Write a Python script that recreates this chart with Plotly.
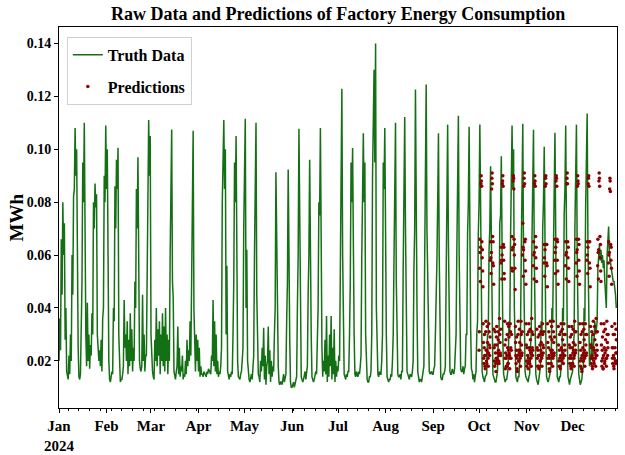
import pandas as pd
import plotly.graph_objects as go

# ---- Truth data: two readings per day (00:00, 12:00) ----
truth_jan = [0.020,0.036, 0.024,0.066, 0.045,0.080, 0.060,0.072, 0.028,0.040, 0.016,0.014, 0.013,0.022,
             0.015,0.030, 0.020,0.060, 0.045,0.082, 0.085,0.108, 0.090,0.100, 0.030,0.025, 0.014,0.013,
             0.015,0.035, 0.050,0.095, 0.080,0.110, 0.044,0.030, 0.018,0.042, 0.020,0.030, 0.017,0.026,
             0.022,0.038, 0.030,0.080, 0.070,0.087, 0.078,0.083, 0.030,0.022, 0.020,0.024, 0.018,0.028,
             0.016,0.036, 0.040,0.090, 0.080,0.109]
truth_feb = [0.085,0.100, 0.030,0.020, 0.013,0.012, 0.014,0.016, 0.015,0.040, 0.035,0.086, 0.070,0.096,
             0.085,0.1006, 0.030,0.014, 0.012,0.013, 0.013,0.015, 0.018,0.043, 0.025,0.030, 0.020,0.035,
             0.015,0.028, 0.018,0.038, 0.020,0.032, 0.016,0.025, 0.020,0.050, 0.040,0.085, 0.070,0.097,
             0.030,0.020, 0.017,0.016, 0.018,0.045, 0.020,0.030, 0.016,0.022, 0.022,0.060, 0.080,0.111,
             0.090,0.105]
truth_mar = [0.030,0.020, 0.016,0.014, 0.013,0.028, 0.020,0.040, 0.018,0.032, 0.022,0.035, 0.015,0.030,
             0.020,0.038, 0.018,0.033, 0.016,0.040, 0.020,0.030, 0.015,0.028, 0.020,0.060, 0.085,0.1075,
             0.050,0.044, 0.016,0.014, 0.013,0.016, 0.018,0.033, 0.015,0.025, 0.014,0.018, 0.016,0.022,
             0.013,0.015, 0.014,0.020, 0.015,0.028, 0.018,0.024, 0.020,0.035, 0.022,0.050, 0.070,0.107,
             0.040,0.025, 0.016,0.030, 0.020,0.028]
truth_apr = [0.016,0.025, 0.014,0.018, 0.015,0.015, 0.014,0.016, 0.015,0.015, 0.014,0.016, 0.015,0.017,
             0.016,0.015, 0.015,0.022, 0.020,0.043, 0.018,0.035, 0.016,0.030, 0.015,0.020, 0.014,0.016,
             0.015,0.018, 0.025,0.080, 0.095,0.111, 0.085,0.100, 0.030,0.056, 0.016,0.014, 0.013,0.015,
             0.014,0.016, 0.015,0.030, 0.050,0.095, 0.080,0.105, 0.030,0.020, 0.014,0.013, 0.013,0.015,
             0.016,0.020, 0.025,0.070]
truth_may = [0.090,0.1115, 0.040,0.062, 0.020,0.016, 0.013,0.012, 0.014,0.015, 0.013,0.020, 0.022,0.060,
             0.080,0.110, 0.045,0.025, 0.015,0.014, 0.012,0.020, 0.016,0.025, 0.018,0.0325, 0.013,0.022,
             0.011,0.018, 0.020,0.033, 0.015,0.024, 0.012,0.020, 0.014,0.018, 0.016,0.030, 0.040,0.0913,
             0.060,0.035, 0.018,0.012, 0.011,0.012, 0.012,0.011, 0.013,0.015, 0.012,0.014, 0.015,0.035,
             0.050,0.0923, 0.045,0.028, 0.012,0.010]
truth_jun = [0.010,0.011, 0.012,0.010, 0.011,0.013, 0.014,0.040, 0.060,0.1077, 0.070,0.040, 0.014,0.013,
             0.012,0.013, 0.014,0.016, 0.013,0.015, 0.018,0.045, 0.060,0.096, 0.050,0.030, 0.014,0.013,
             0.012,0.013, 0.014,0.016, 0.015,0.030, 0.040,0.080, 0.075,0.108, 0.035,0.025, 0.014,0.020,
             0.016,0.028, 0.015,0.037, 0.012,0.022, 0.014,0.030, 0.018,0.037, 0.013,0.025, 0.015,0.032,
             0.012,0.020, 0.014,0.018]
truth_jul = [0.016,0.022, 0.020,0.050, 0.070,0.1229, 0.060,0.030, 0.015,0.014, 0.013,0.015, 0.014,0.016,
             0.016,0.030, 0.050,0.095, 0.080,0.1005, 0.045,0.030, 0.015,0.014, 0.016,0.015, 0.014,0.016,
             0.015,0.018, 0.022,0.060, 0.090,0.106, 0.080,0.095, 0.030,0.020, 0.013,0.012, 0.012,0.014,
             0.014,0.016, 0.030,0.090, 0.110,0.130, 0.095,0.140, 0.040,0.020, 0.015,0.014, 0.016,0.015,
             0.015,0.020, 0.030,0.095, 0.085,0.108]
truth_aug = [0.060,0.030, 0.014,0.013, 0.012,0.013, 0.013,0.015, 0.014,0.020, 0.030,0.058, 0.080,0.110,
             0.050,0.030, 0.015,0.014, 0.014,0.015, 0.013,0.016, 0.016,0.055, 0.075,0.1122, 0.070,0.035,
             0.016,0.015, 0.014,0.013, 0.015,0.014, 0.014,0.016, 0.020,0.0545, 0.070,0.1226, 0.060,0.040,
             0.016,0.014, 0.012,0.013, 0.013,0.012, 0.014,0.015, 0.018,0.057, 0.080,0.1245, 0.070,0.045,
             0.018,0.016, 0.015,0.016, 0.016,0.015]
truth_sep = [0.015,0.017, 0.018,0.030, 0.040,0.058, 0.080,0.106, 0.060,0.030, 0.014,0.013, 0.013,0.015,
             0.015,0.016, 0.018,0.050, 0.090,0.1093, 0.065,0.035, 0.016,0.015, 0.015,0.017, 0.016,0.015,
             0.017,0.025, 0.030,0.062, 0.090,0.1127, 0.060,0.030, 0.017,0.016, 0.016,0.018, 0.015,0.017,
             0.018,0.030, 0.030,0.068, 0.080,0.1085, 0.060,0.032, 0.017,0.016, 0.013,0.015, 0.012,0.014,
             0.016,0.030, 0.035,0.068]
truth_oct = [0.080,0.1093, 0.070,0.040, 0.016,0.014, 0.013,0.012, 0.014,0.015, 0.015,0.030, 0.030,0.062,
             0.070,0.0936, 0.060,0.030, 0.015,0.014, 0.013,0.012, 0.012,0.014, 0.016,0.028, 0.030,0.072,
             0.075,0.0973, 0.050,0.028, 0.015,0.013, 0.012,0.013, 0.013,0.015, 0.018,0.035, 0.030,0.065,
             0.080,0.109, 0.085,0.100, 0.040,0.025, 0.014,0.013, 0.012,0.014, 0.014,0.020, 0.030,0.060,
             0.085,0.1096, 0.060,0.035, 0.016,0.014]
truth_nov = [0.013,0.012, 0.012,0.014, 0.015,0.025, 0.030,0.066, 0.080,0.1074, 0.060,0.030, 0.015,0.013,
             0.012,0.011, 0.013,0.015, 0.018,0.035, 0.030,0.070, 0.080,0.1009, 0.055,0.030, 0.014,0.013,
             0.012,0.013, 0.014,0.016, 0.018,0.040, 0.035,0.075, 0.085,0.1062, 0.050,0.028, 0.014,0.013,
             0.012,0.014, 0.014,0.018, 0.020,0.040, 0.035,0.075, 0.085,0.109, 0.060,0.030, 0.014,0.012,
             0.011,0.013, 0.014,0.016]
truth_dec = [0.016,0.025, 0.030,0.070, 0.085,0.1093, 0.060,0.030, 0.015,0.013, 0.011,0.012, 0.013,0.016,
             0.018,0.040, 0.035,0.078, 0.090,0.1135, 0.065,0.035, 0.018,0.020, 0.022,0.030, 0.020,0.025,
             0.028,0.035, 0.030,0.032, 0.035,0.055, 0.060,0.064, 0.058,0.062, 0.057,0.060, 0.055,0.058,
             0.050,0.045, 0.040,0.060, 0.065,0.0708, 0.060,0.058, 0.056,0.055, 0.052,0.050, 0.050,0.048,
             0.045,0.040]

# ---- Predictions: six readings per day (every 4 h) from Oct 1 ----
pred_oct = [
    0.024,0.031,0.055,0.066,0.061,0.050, 0.063,0.087,0.090,0.088,0.086,0.065, 0.059,0.062,0.054,0.048,0.034,0.027,
    0.021,0.019,0.025,0.030,0.022,0.018, 0.017,0.022,0.031,0.035,0.024,0.020, 0.019,0.024,0.033,0.027,0.023,0.021,
    0.018,0.023,0.034,0.031,0.026,0.022,
    0.025,0.029,0.058,0.065,0.059,0.053, 0.061,0.085,0.089,0.091,0.087,0.067, 0.057,0.065,0.056,0.049,0.032,0.025,
    0.020,0.018,0.026,0.031,0.023,0.019, 0.016,0.021,0.029,0.033,0.026,0.021, 0.020,0.023,0.031,0.028,0.024,0.020,
    0.019,0.022,0.036,0.030,0.027,0.023,
    0.022,0.032,0.057,0.063,0.058,0.051, 0.060,0.087,0.088,0.090,0.086,0.064, 0.058,0.063,0.053,0.051,0.035,0.026,
    0.021,0.017,0.023,0.028,0.021,0.018, 0.018,0.022,0.030,0.034,0.025,0.019, 0.019,0.024,0.033,0.029,0.023,0.022,
    0.017,0.021,0.034,0.031,0.025,0.021,
    0.024,0.030,0.055,0.067,0.062,0.054, 0.063,0.088,0.090,0.089,0.085,0.066, 0.060,0.064,0.055,0.047,0.033,0.027,
    0.022,0.019,0.024,0.029,0.021,0.017, 0.016,0.022,0.030,0.035,0.024,0.020, 0.020,0.023,0.032,0.027,0.024,0.021,
    0.018,0.022,0.035,0.030,0.026,0.022,
    0.023,0.031,0.060,0.072,0.063,0.052, 0.062,0.086,0.089,0.091,0.087,0.065, 0.058,0.066,0.054,0.049,0.034,0.026]
pred_nov = [
    0.020,0.018,0.025,0.030,0.022,0.019, 0.017,0.021,0.031,0.034,0.025,0.020, 0.019,0.024,0.032,0.028,0.023,0.021,
    0.018,0.023,0.036,0.031,0.025,0.022,
    0.024,0.030,0.056,0.065,0.060,0.051, 0.061,0.087,0.090,0.088,0.086,0.067, 0.059,0.063,0.055,0.050,0.032,0.025,
    0.021,0.018,0.024,0.029,0.022,0.018, 0.017,0.022,0.030,0.033,0.026,0.020, 0.020,0.024,0.031,0.027,0.023,0.021,
    0.018,0.022,0.034,0.030,0.026,0.023,
    0.025,0.031,0.057,0.064,0.059,0.052, 0.062,0.086,0.089,0.090,0.087,0.064, 0.057,0.064,0.056,0.048,0.034,0.027,
    0.021,0.019,0.025,0.031,0.022,0.017, 0.016,0.021,0.029,0.035,0.024,0.019, 0.019,0.023,0.033,0.028,0.024,0.022,
    0.018,0.021,0.035,0.031,0.027,0.022,
    0.023,0.029,0.058,0.066,0.061,0.053, 0.063,0.088,0.090,0.089,0.086,0.066, 0.058,0.065,0.054,0.049,0.033,0.026,
    0.020,0.018,0.024,0.030,0.021,0.018, 0.017,0.022,0.031,0.034,0.025,0.020, 0.020,0.024,0.032,0.028,0.023,0.021,
    0.019,0.022,0.034,0.030,0.026,0.022,
    0.024,0.030,0.056,0.065,0.060,0.051, 0.061,0.087,0.089,0.091,0.087,0.065, 0.059,0.063,0.055,0.050,0.033,0.026,
    0.021,0.019,0.025,0.029,0.022,0.018, 0.017,0.021,0.030,0.033,0.025,0.019]
pred_dec = [
    0.019,0.023,0.032,0.027,0.024,0.021, 0.018,0.022,0.035,0.031,0.026,0.023,
    0.024,0.031,0.057,0.066,0.061,0.052, 0.062,0.086,0.090,0.088,0.087,0.066, 0.058,0.064,0.054,0.049,0.034,0.027,
    0.020,0.018,0.024,0.030,0.021,0.017, 0.016,0.022,0.031,0.034,0.025,0.020, 0.020,0.023,0.032,0.028,0.024,0.021,
    0.018,0.022,0.034,0.030,0.026,0.022,
    0.023,0.030,0.058,0.065,0.060,0.053, 0.063,0.087,0.089,0.090,0.086,0.065, 0.057,0.065,0.055,0.048,0.033,0.026,
    0.021,0.019,0.025,0.031,0.022,0.018, 0.017,0.021,0.030,0.035,0.025,0.020, 0.019,0.024,0.033,0.028,0.023,0.021,
    0.018,0.022,0.036,0.031,0.026,0.022,
    0.024,0.031,0.056,0.066,0.061,0.051, 0.062,0.088,0.091,0.089,0.086,0.067, 0.059,0.064,0.054,0.050,0.034,0.026,
    0.020,0.018,0.024,0.029,0.021,0.017, 0.017,0.022,0.031,0.034,0.025,0.019, 0.020,0.023,0.032,0.028,0.024,0.021,
    0.018,0.021,0.035,0.030,0.027,0.022,
    0.025,0.030,0.057,0.065,0.060,0.052, 0.061,0.085,0.089,0.088,0.084,0.064, 0.058,0.063,0.055,0.049,0.033,0.025,
    0.021,0.019,0.025,0.030,0.022,0.018, 0.017,0.021,0.030,0.034,0.025,0.020, 0.019,0.023,0.032,0.028,0.023,0.020]

month_ticks = ["2024-01-01", "2024-02-01", "2024-03-01", "2024-04-01", "2024-05-01", "2024-06-01",
               "2024-07-01", "2024-08-01", "2024-09-01", "2024-10-01", "2024-11-01", "2024-12-01"]
month_labels = ["Jan<br>2024", "Feb", "Mar", "Apr", "May", "Jun",
                "Jul", "Aug", "Sep", "Oct", "Nov", "Dec"]
y_ticks = [0.02, 0.04, 0.06, 0.08, 0.10, 0.12, 0.14]

truth = (truth_jan + truth_feb + truth_mar + truth_apr + truth_may + truth_jun +
         truth_jul + truth_aug + truth_sep + truth_oct + truth_nov + truth_dec)
truth_time = pd.date_range("2024-01-01", periods=len(truth), freq="12h")
pred = pred_oct + pred_nov + pred_dec
pred_time = pd.date_range("2024-10-01", periods=len(pred), freq="4h")

FONT = "Liberation Serif"

fig = go.Figure()
fig.add_trace(go.Scatter(
    x=truth_time, y=truth, mode="lines", name="Truth Data",
    line=dict(color="rgba(0,100,0,0.92)", width=1.5), legendgroup="t"))
fig.add_trace(go.Scatter(
    x=pred_time, y=pred, mode="markers", name="Predictions",
    marker=dict(color="#8b0000", size=3.5), legendgroup="p"))

fig.update_layout(
    width=625, height=455,
    margin=dict(l=59, r=8, t=27, b=47),
    paper_bgcolor="white", plot_bgcolor="white",
    font=dict(family=FONT, color="black", weight="bold"),
    title=dict(text="Raw Data and Predictions of Factory Energy Consumption",
               font=dict(family=FONT, size=18, weight="bold"),
               x=0.541, xanchor="center", y=0.969, yanchor="middle"),
    legend=dict(x=0.014, y=0.974, xanchor="left", yanchor="top",
                bordercolor="#d0d0d0", borderwidth=1, bgcolor="rgba(255,255,255,0.85)",
                font=dict(family=FONT, size=16, weight="bold"),
                tracegroupgap=8, traceorder="grouped"),
    showlegend=True,
    annotations=[dict(text="MWh", xref="paper", yref="paper", x=-0.077, y=0.5,
                      xanchor="center", yanchor="middle", textangle=-90, showarrow=False,
                      font=dict(family=FONT, size=19, weight="bold"))],
)
fig.update_xaxes(
    range=["2024-01-01 00:00", "2024-12-29 23:00"],
    tickvals=month_ticks, ticktext=month_labels,
    ticks="outside", ticklen=4, tickcolor="black",
    showline=True, linecolor="black", linewidth=1, mirror=True,
    showgrid=False, zeroline=False, automargin=False,
    tickfont=dict(family=FONT, size=15, weight="bold"),
    minor=dict(dtick=7 * 86400000, tick0="2024-01-07", ticks="outside", ticklen=2, tickcolor="black"),
)
fig.update_yaxes(
    range=[0.0022, 0.1462],
    tickvals=y_ticks, tickformat=".2f",
    ticks="outside", ticklen=4, tickcolor="black",
    showline=True, linecolor="black", linewidth=1, mirror=True,
    showgrid=False, zeroline=False, automargin=False,
    tickfont=dict(family=FONT, size=14, weight="bold"),
)

fig.write_html("out.html", config={"displayModeBar": False},
               post_script="document.body.style.margin='0';document.body.style.overflow='hidden';")
